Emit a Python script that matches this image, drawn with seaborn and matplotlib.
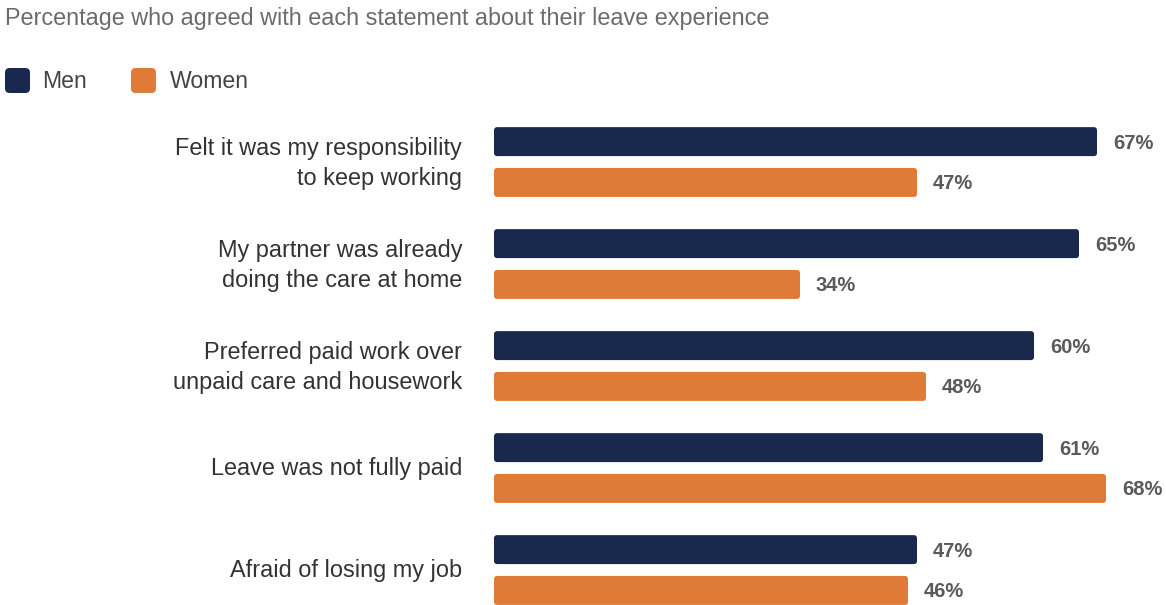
import matplotlib
matplotlib.use("Agg")
import matplotlib.pyplot as plt
from matplotlib.patches import FancyBboxPatch
from matplotlib.transforms import ScaledTranslation
import seaborn as sns
import pandas as pd

statements = [
    "Felt it was my responsibility\nto keep working",
    "My partner was already\ndoing the care at home",
    "Preferred paid work over\nunpaid care and housework",
    "Leave was not fully paid",
    "Afraid of losing my job",
]
men = [67, 65, 60, 61, 47]
women = [47, 34, 48, 68, 46]
groups = ["Men", "Women"]
colors = {"Men": "#18294d", "Women": "#e07a37"}

df = pd.DataFrame({
    "statement": statements * 2,
    "group": ["Men"] * len(statements) + ["Women"] * len(statements),
    "pct": men + women,
})

sns.set_theme(style="white")
plt.rcParams["font.family"] = ["Liberation Sans", "DejaVu Sans"]

W, H = 1166, 605
fig = plt.figure(figsize=(W / 100, H / 100), dpi=100)

px_per_unit = 9.0           # pixels per percentage point
left_px = 494
ax = fig.add_axes([left_px / W, 0, 1 - left_px / W, (H - 110) / H])

sns.barplot(data=df, y="statement", x="pct", hue="group", order=statements,
            hue_order=groups, palette=colors, orient="h", width=0.8, gap=0.29,
            saturation=1, legend=False, ax=ax, edgecolor="none")

ax.set_xlim(0, (W - left_px) / px_per_unit)
ax.set_ylim(4.343, -0.51)

# rounded bar corners
rad_px = 3
for bar in list(ax.patches):
    x, y = bar.get_x(), bar.get_y()
    w, h = bar.get_width(), bar.get_height()
    fc = bar.get_facecolor()
    bar.set_visible(False)
    rx = rad_px / px_per_unit
    ry = rad_px / 102.0
    p = FancyBboxPatch((x + rx, y + ry), w - 2 * rx, h - 2 * ry,
                       boxstyle=f"round,pad={rx},rounding_size={rx}",
                       mutation_aspect=ry / rx, facecolor=fc, edgecolor="none")
    ax.add_patch(p)
    ax.text(x + w + 16 / px_per_unit, y + h / 2 + 0.015, f"{int(round(w))}%",
            ha="left", va="center", fontsize=14.5, fontweight="bold",
            color="#5a5a5a")

ax.set_xlabel("")
ax.set_ylabel("")
ax.set_xticks([])
ax.tick_params(axis="y", length=0, pad=23, labelsize=16.9, labelcolor="#333333")
for lbl in ax.get_yticklabels():
    lbl.set_linespacing(1.42)
    lbl.set_horizontalalignment("right")
    lbl.set_verticalalignment("center")
    shift = -1.5 if "\n" in lbl.get_text() else 0
    lbl.set_transform(lbl.get_transform()
                      + ScaledTranslation(0, shift / 100, fig.dpi_scale_trans))
sns.despine(ax=ax, left=True, bottom=True)

fig.text(5 / W, 1 - 18 / H, "Percentage who agreed with each statement about their leave experience",
         ha="left", va="center", fontsize=16.8, color="#6b6b6b")

# legend
for gx, tx, name in [(5, 42, "Men"), (131, 170, "Women")]:
    sq = FancyBboxPatch((gx / W, 1 - 93 / H), 25 / W, 25 / H,
                        boxstyle="round,pad=0,rounding_size=0.004",
                        mutation_aspect=W / H,
                        transform=fig.transFigure, facecolor=colors[name],
                        edgecolor="none")
    fig.patches.append(sq)
    fig.text(tx / W, 1 - 81 / H, name, ha="left", va="center",
             fontsize=16.6, color="#444444")

fig.savefig("out.png", dpi=100)
